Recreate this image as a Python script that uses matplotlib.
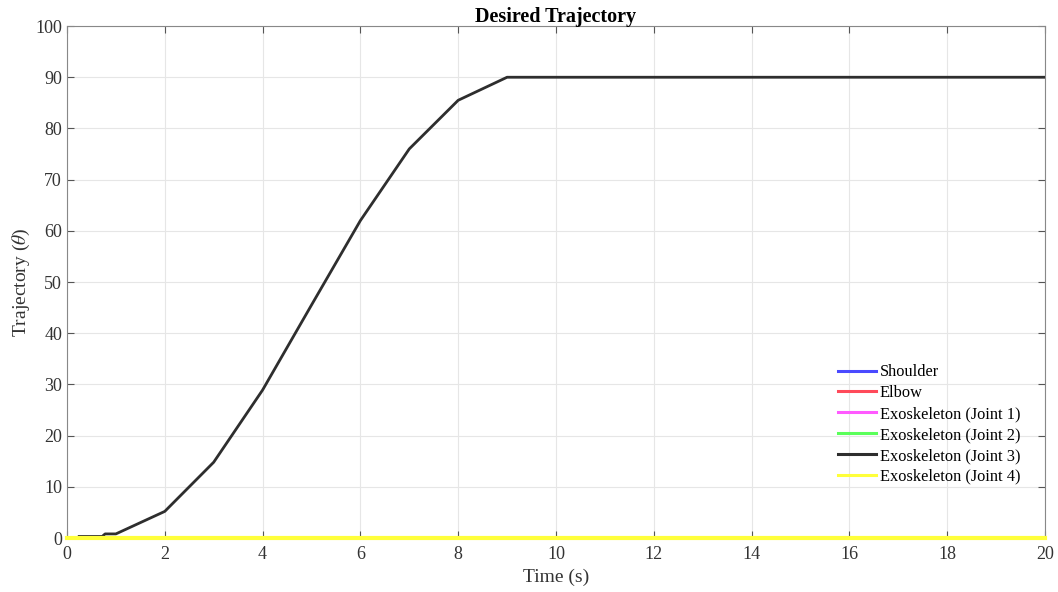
import numpy as np
import matplotlib
matplotlib.use("Agg")
import matplotlib.pyplot as plt

plt.rcParams['font.family'] = ['Liberation Serif', 'DejaVu Serif']
plt.rcParams['mathtext.fontset'] = 'stix'

# zero-valued series (hidden under the yellow line)
t_flat = [0, 20]
shoulder = [0, 0]
elbow = [0, 0]
joint1 = [0, 0]
joint2 = [0, 0]
joint4 = [0, 0]

# joint 3 trajectory
t_j3 = [0.25, 0.72, 0.78, 1.0, 2, 3, 4, 5, 6, 7, 8, 9, 20]
joint3 = [0.3, 0.3, 0.8, 0.8, 5.2, 14.8, 28.9, 45.5, 62.0, 76.0, 85.5, 90.0, 90.0]

fig = plt.figure(figsize=(10.58, 5.92), dpi=100)
ax = fig.add_axes([0.0633, 0.0912, 0.9244, 0.8648])

ax.plot(t_flat, shoulder, color="#4a4aff", lw=2, label="Shoulder", clip_on=False)
ax.plot(t_flat, elbow, color="#ff4a5a", lw=2, label="Elbow", clip_on=False)
ax.plot(t_flat, joint1, color="#ff5aff", lw=2, label="Exoskeleton (Joint 1)", clip_on=False)
ax.plot(t_flat, joint2, color="#5aff5a", lw=2, label="Exoskeleton (Joint 2)", clip_on=False)
ax.plot(t_j3, joint3, color="#2e2e2e", lw=2, label="Exoskeleton (Joint 3)", zorder=3)
ax.plot(t_flat, joint4, color="#ffff3a", lw=3, label="Exoskeleton (Joint 4)",
        clip_on=False, zorder=4)

ax.set_xlim(0, 20)
ax.set_ylim(0, 100)
ax.set_xticks(np.arange(0, 21, 2))
ax.set_yticks(np.arange(0, 101, 10))
ax.grid(True, color="#e6e6e6", lw=0.8)
ax.tick_params(direction="in", top=True, right=True, colors="#555555",
               labelcolor="#333333", labelsize=13, length=5)
ax.tick_params(axis="x", pad=6)
for s in ax.spines.values():
    s.set_color("#888888")

ax.set_title("Desired Trajectory", fontsize=14.5, fontweight="bold", pad=3)
ax.set_xlabel("Time (s)", fontsize=14, color="#333333", labelpad=4)
ax.set_ylabel(r"Trajectory ($\theta$)", fontsize=14, color="#333333", labelpad=2)

leg = ax.legend(loc="lower right", bbox_to_anchor=(0.99, 0.075), frameon=False,
                fontsize=11.8, handlelength=2.3, handletextpad=0.25,
                labelspacing=0.3)
for h in leg.get_lines():
    h.set_linewidth(2.2)

fig.savefig("out.png", dpi=100)
